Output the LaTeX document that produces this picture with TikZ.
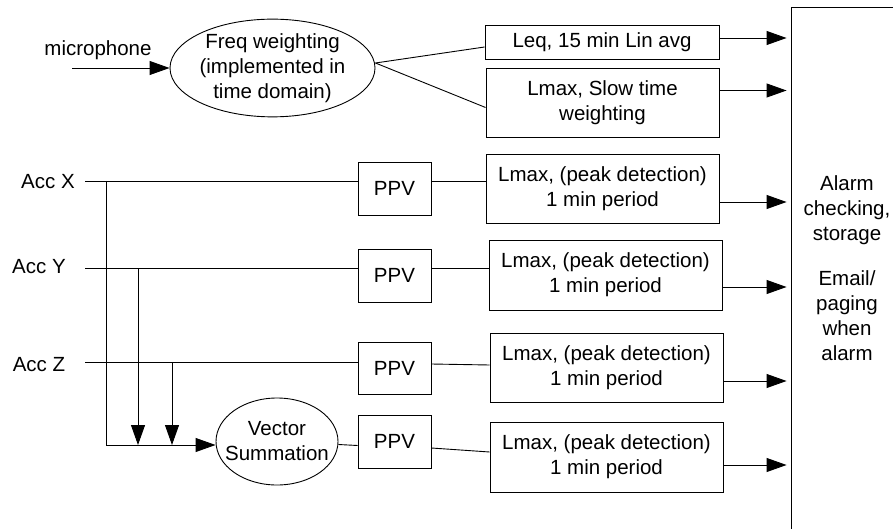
\documentclass[tikz,border=0pt]{standalone}
\usepackage{fontspec}
\setmainfont{Liberation Sans}
\usetikzlibrary{arrows.meta,shapes.geometric,calc}
\begin{document}
\begin{tikzpicture}[x=1pt,y=-1pt,
  font=\fontsize{20.5}{25}\selectfont,
  line width=0.9pt,
  box/.style={draw, rectangle, inner sep=0pt, align=center},
  oval/.style={draw, ellipse, inner ysep=0pt, inner xsep=-10pt, align=center},
  arr/.style={-{Triangle[length=20pt,width=14pt]}},
  lbl/.style={inner sep=0pt, align=center}]
\useasboundingbox (0,0) rectangle (893,529);
\clip (0,0) rectangle (893,529);

% store
\node[box, minimum width=112pt, minimum height=535pt] (store) at (847,274.5) {};
\node[lbl] (storetext) at (847,268) {Alarm\\checking,\\storage\\[20pt]Email/\\paging\\when\\alarm};

% microphone path
\node[lbl] (mic) at (98,50) {microphone};
\coordinate (micin) at (72,68);
\node[oval, minimum width=205pt, minimum height=86pt] (freq) at (272.5,68) {Freq weighting\\(implemented in\\time domain)};
\node[box, minimum width=234pt, minimum height=34pt] (leq) at (602,42) {Leq, 15 min Lin avg};
\node[box, minimum width=233pt, minimum height=69pt] (slow) at (602.5,102.5) {Lmax, Slow time\\weighting};

\draw[arr] (micin) -- (freq.west);
\draw ([yshift=5pt]freq.east) -- ([yshift=-5pt]leq.west);
\draw ([yshift=5pt]freq.east) -- ([yshift=-5pt]slow.west);
\draw[arr, shorten >=4pt] ([yshift=4pt]leq.east) -- ([yshift=4pt]leq.east -| store.west);
\draw[arr, shorten >=4pt] ([yshift=12pt]slow.east) -- ([yshift=12pt]slow.east -| store.west);

% accelerometers
\node[lbl] (accx) at (48,182) {Acc X};
\node[lbl] (accy) at (39,267) {Acc Y};
\node[lbl] (accz) at (39,365) {Acc Z};
\coordinate (xs) at (85,181);
\coordinate (ys) at (85,268);
\coordinate (zs) at (85,362);

\node[box, minimum width=73pt, minimum height=53pt] (ppv1) at (394.5,188.5) {PPV};
\node[box, minimum width=73pt, minimum height=53pt] (ppv2) at (394.5,275.5) {PPV};
\node[box, minimum width=73pt, minimum height=52pt] (ppv3) at (394.5,368) {PPV};
\node[box, minimum width=73pt, minimum height=53pt] (ppv4) at (394.5,441.5) {PPV};

\node[box, minimum width=233pt, minimum height=69pt] (l1) at (602.5,188.5) {Lmax, (peak detection)\\1 min period};
\node[box, minimum width=233pt, minimum height=70pt] (l2) at (605.5,275) {Lmax, (peak detection)\\1 min period};
\node[box, minimum width=233pt, minimum height=69pt] (l3) at (606.5,367.5) {Lmax, (peak detection)\\1 min period};
\node[box, minimum width=233pt, minimum height=70pt] (l4) at (606.5,457) {Lmax, (peak detection)\\1 min period};

\node[oval, minimum width=122pt, minimum height=87pt] (vsum) at (277,441.5) {Vector\\Summation};

% acc lines to PPV
\draw (xs) -- (xs -| ppv1.west);
\draw (ys) -- (ys -| ppv2.west);
\draw (zs) -- (zs -| ppv3.west);
\draw ([yshift=-3pt]vsum.east) -- ([yshift=-4pt]ppv4.west);

% PPV to Lmax
\draw (ppv1.east |- xs) -- (xs -| l1.west);
\draw (ppv2.east |- ys) -- (ys -| l2.west);
\draw ([yshift=4pt]ppv3.east) -- ([yshift=2.5pt]l3.west);
\draw ([yshift=-6.5pt]ppv4.east) -- ([yshift=5pt]l4.west);

% Lmax to store
\draw[arr, shorten >=4pt] ([yshift=-13.5pt]l1.east) -- ([yshift=-13.5pt]l1.east -| store.west);
\draw[arr, shorten >=4pt] ([yshift=-12pt]l2.east) -- ([yshift=-12pt]l2.east -| store.west);
\draw[arr, shorten >=4pt] ([yshift=-13.5pt]l3.east) -- ([yshift=-13.5pt]l3.east -| store.west);
\draw[arr, shorten >=4pt] ([yshift=-8pt]l4.east) -- ([yshift=-8pt]l4.east -| store.west);

% vector summation bus
\coordinate (jx) at (106,181);
\coordinate (jy) at (138,268);
\coordinate (jz) at (172,362);
\coordinate (bus) at (106,445);
\draw[arr] (jx) -- (bus) -- (bus -| vsum.west);
\draw[arr] (jy) -- (jy |- bus);
\draw[arr] (jz) -- (jz |- bus);
\end{tikzpicture}
\end{document}
